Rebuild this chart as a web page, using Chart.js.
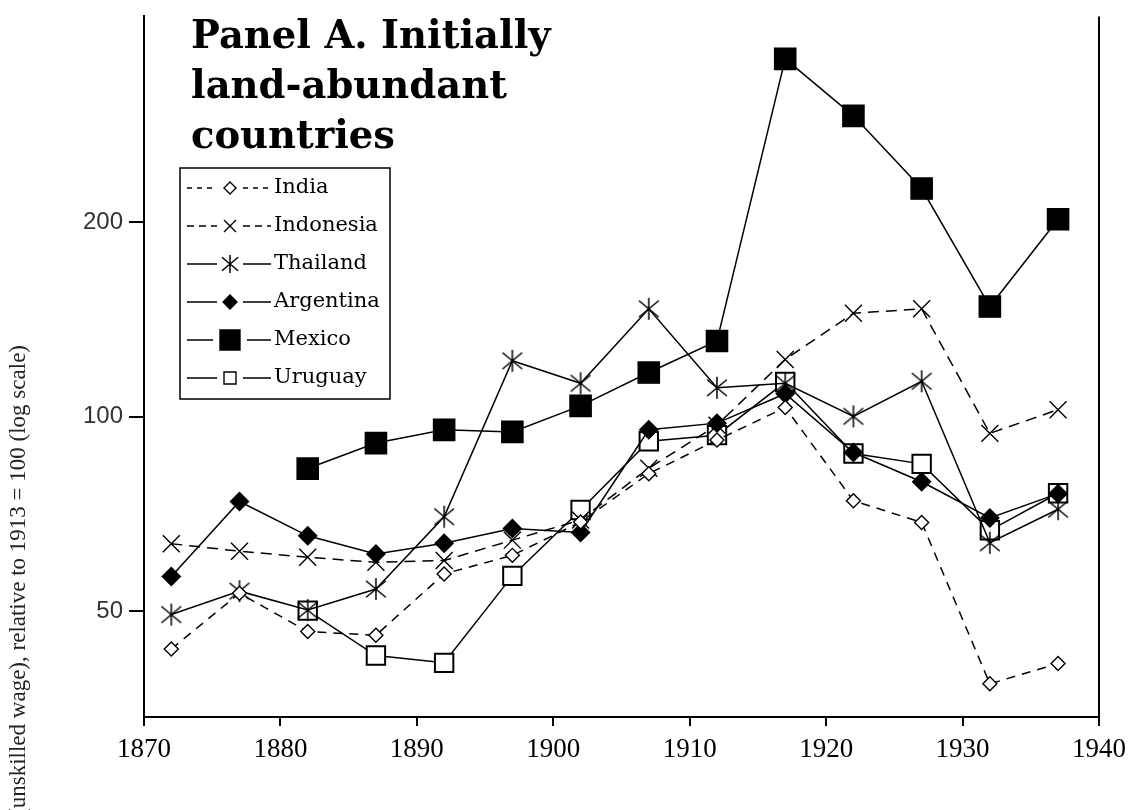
<!DOCTYPE html>
<html>
<head>
<meta charset="utf-8">
<title>Panel A. Initially land-abundant countries</title>
<script src="https://cdn.jsdelivr.net/npm/chart.js"></script>
<style>
    body { margin: 0; background: #fff; }
    #wageChart { display: block; }
</style>
</head>
<body>
<canvas id="wageChart" width="1130" height="810"></canvas>
<script>
// ================================
// Data (index, 1913 = 100)
// ================================
const years = [1872, 1877, 1882, 1887, 1892, 1897, 1902, 1907, 1912, 1917, 1922, 1927, 1932, 1937];

const india     = [43.7, 53.3, 46.5, 45.9, 57.1, 61.0, 68.7, 81.6, 92, 103.3, 74.1, 68.6, 38.6, 41.5];
const indonesia = [63.6, 61.9, 60.6, 59.5, 59.9, 64.4, 69.2, 83.2, 97, 122.6, 144.5, 146.8, 94.2, 102.5];
const thailand  = [49.4, 53.7, 50.2, 54.1, 70.0, 122, 112.6, 146.8, 110.8, 112.6, 100.1, 113.4, 63.8, 71.9];
const argentina = [56.6, 73.9, 65.4, 61.3, 63.7, 67.1, 66.2, 95.4, 97.7, 108.5, 88, 79.3, 69.7, 76];
const mexico    = [null, null, 83.1, 91.0, 95.4, 94.7, 103.9, 117.0, 130.9, 357.6, 291.9, 225.3, 148, 202];
const uruguay   = [null, null, 50.1, 42.7, 41.6, 56.7, 71.7, 91.6, 93.6, 113.1, 87.7, 84.5, 66.7, 76.1];

const yTickValues = [50, 100, 200];
const xTickStep = 10;

const titleLines = ["Panel A. Initially", "land-abundant", "countries"];
const yTitle = "(unskilled wage), relative to 1913 = 100 (log scale)";

// ================================
// Marker helpers
// ================================
function makeStar(size) {
    const c = document.createElement("canvas");
    c.width = size;
    c.height = size;
    const g = c.getContext("2d");
    const m = size / 2;
    const r = size / 2 - 1;
    g.strokeStyle = "#000";
    g.lineWidth = 1.5;
    g.beginPath();
    g.moveTo(m, m - r);
    g.lineTo(m, m + r);
    g.moveTo(m - r * 0.9, m - r * 0.75);
    g.lineTo(m + r * 0.9, m + r * 0.75);
    g.moveTo(m + r * 0.9, m - r * 0.75);
    g.lineTo(m - r * 0.9, m + r * 0.75);
    g.stroke();
    return c;
}

const starBig = makeStar(24);
const starSmall = makeStar(20);

function toPoints(values) {
    return years.map((yr, i) => ({ x: yr, y: values[i] }));
}

function drawMarker(ctx, kind, x, y, size, filled) {
    ctx.save();
    ctx.strokeStyle = "#000";
    ctx.fillStyle = filled ? "#000" : "#fff";
    ctx.lineWidth = 1.4;
    ctx.beginPath();
    if (kind === "diamond") {
        ctx.moveTo(x - size, y);
        ctx.lineTo(x, y - size);
        ctx.lineTo(x + size, y);
        ctx.lineTo(x, y + size);
        ctx.closePath();
        ctx.fill();
        ctx.stroke();
    } else if (kind === "square") {
        ctx.rect(x - size, y - size, size * 2, size * 2);
        ctx.fill();
        ctx.stroke();
    } else if (kind === "x") {
        ctx.moveTo(x - size, y - size);
        ctx.lineTo(x + size, y + size);
        ctx.moveTo(x + size, y - size);
        ctx.lineTo(x - size, y + size);
        ctx.stroke();
    } else if (kind === "star") {
        ctx.drawImage(starSmall, x - 10, y - 10);
    }
    ctx.restore();
}

// ================================
// Series definitions
// ================================
const legendItems = [
    { name: "India",     dash: [5, 5], kind: "diamond", size: 6,  filled: false },
    { name: "Indonesia", dash: [7, 5], kind: "x",       size: 6,  filled: false },
    { name: "Thailand",  dash: [],     kind: "star",    size: 9,  filled: false },
    { name: "Argentina", dash: [],     kind: "diamond", size: 7,  filled: true },
    { name: "Mexico",    dash: [],     kind: "square",  size: 10, filled: true },
    { name: "Uruguay",   dash: [],     kind: "square",  size: 6,  filled: false }
];

function series(label, values, extra) {
    return Object.assign({
        label: label,
        data: toPoints(values),
        borderColor: "#000",
        borderWidth: 1.5,
        pointBorderColor: "#000",
        pointBackgroundColor: "#000",
        pointBorderWidth: 1.4,
        tension: 0,
        spanGaps: false
    }, extra);
}

const datasets = [
    series("India", india, {
        borderDash: [9, 7],
        pointStyle: "rectRot", pointRadius: 7,
        pointBackgroundColor: "#fff"
    }),
    series("Indonesia", indonesia, {
        borderDash: [11, 7],
        pointStyle: "crossRot", pointRadius: 12
    }),
    series("Thailand", thailand, {
        pointStyle: starBig, pointRadius: 12
    }),
    series("Argentina", argentina, {
        pointStyle: "rectRot", pointRadius: 9
    }),
    series("Mexico", mexico, {
        pointStyle: "rect", pointRadius: 15
    }),
    series("Uruguay", uruguay, {
        pointStyle: "rect", pointRadius: 13,
        pointBackgroundColor: "#fff", pointBorderWidth: 2
    })
];

// ================================
// Decorations: frame, title, y title, legend
// ================================
const decorPlugin = {
    id: "decor",
    beforeDraw(chart) {
        const ctx = chart.ctx;
        ctx.save();
        ctx.fillStyle = "#fff";
        ctx.fillRect(0, 0, chart.width, chart.height);
        ctx.restore();
    },
    afterDraw(chart) {
        const ctx = chart.ctx;
        const area = chart.chartArea;

        // right frame line
        ctx.save();
        ctx.strokeStyle = "#000";
        ctx.lineWidth = 2;
        ctx.beginPath();
        ctx.moveTo(area.right, area.top);
        ctx.lineTo(area.right, area.bottom);
        ctx.stroke();
        ctx.restore();

        // panel title
        ctx.save();
        ctx.fillStyle = "#000";
        ctx.font = "bold 38.5px 'DejaVu Serif'";
        ctx.textBaseline = "alphabetic";
        titleLines.forEach((line, i) => {
            ctx.fillText(line, 191, 48 + i * 50);
        });
        ctx.restore();

        // rotated y title
        ctx.save();
        ctx.fillStyle = "#222";
        ctx.font = "23px 'Liberation Serif'";
        ctx.translate(19, 345);
        ctx.rotate(-Math.PI / 2);
        ctx.textAlign = "right";
        ctx.textBaseline = "middle";
        ctx.fillText(yTitle, 0, 0);
        ctx.restore();

        // legend box
        const boxLeft = 180, boxTop = 168, boxRight = 390, boxBottom = 399;
        ctx.save();
        ctx.fillStyle = "#fff";
        ctx.fillRect(boxLeft, boxTop, boxRight - boxLeft, boxBottom - boxTop);
        ctx.strokeStyle = "#000";
        ctx.lineWidth = 1.5;
        ctx.strokeRect(boxLeft, boxTop, boxRight - boxLeft, boxBottom - boxTop);

        legendItems.forEach((item, i) => {
            const cy = 188 + i * 38;
            const mx = 230;
            const gap = item.kind === "square" && item.filled ? 17 : 13;
            ctx.strokeStyle = "#000";
            ctx.lineWidth = 1.4;
            ctx.setLineDash(item.dash);
            ctx.beginPath();
            ctx.moveTo(187, cy);
            ctx.lineTo(mx - gap, cy);
            ctx.moveTo(mx + gap, cy);
            ctx.lineTo(271, cy);
            ctx.stroke();
            ctx.setLineDash([]);
            drawMarker(ctx, item.kind, mx, cy, item.size, item.filled);

            ctx.fillStyle = "#000";
            ctx.font = "21px 'DejaVu Serif'";
            ctx.textBaseline = "middle";
            ctx.fillText(item.name, 274, cy);
        });
        ctx.restore();
    }
};

// ================================
// Chart
// ================================
const ctxWage = document.getElementById("wageChart");
new Chart(ctxWage, {
    type: "line",
    data: { datasets: datasets },
    options: {
        responsive: false,
        animation: false,
        events: [],
        layout: { padding: { left: 0, right: 31, top: 15, bottom: 0 } },
        plugins: {
            legend: { display: false },
            tooltip: { enabled: false },
            title: { display: false }
        },
        scales: {
            x: {
                type: "linear",
                min: 1870,
                max: 1940,
                afterFit(scale) {
                    scale.height = 93;
                    scale.paddingLeft = 0;
                    scale.paddingRight = 0;
                },
                ticks: {
                    stepSize: xTickStep,
                    padding: 8,
                    color: "#000",
                    font: { family: "'Liberation Serif'", size: 27 },
                    callback: (v) => String(v)
                },
                grid: {
                    drawOnChartArea: false,
                    drawTicks: true,
                    tickLength: 9,
                    color: "#000",
                    lineWidth: 2
                },
                border: { display: true, color: "#000", width: 2 }
            },
            y: {
                type: "logarithmic",
                min: 34.3,
                max: 416,
                afterFit(scale) {
                    scale.width = 144;
                    scale.paddingTop = 0;
                    scale.paddingBottom = 0;
                },
                afterBuildTicks(scale) {
                    scale.ticks = yTickValues.map((v) => ({ value: v }));
                },
                ticks: {
                    padding: 6,
                    color: "#333",
                    font: { family: "'Liberation Sans'", size: 24 },
                    callback: (v) => String(v)
                },
                grid: {
                    drawOnChartArea: false,
                    drawTicks: true,
                    tickLength: 15,
                    color: "#000",
                    lineWidth: 2
                },
                border: { display: true, color: "#000", width: 2 }
            }
        }
    },
    plugins: [decorPlugin]
});
</script>
</body>
</html>
